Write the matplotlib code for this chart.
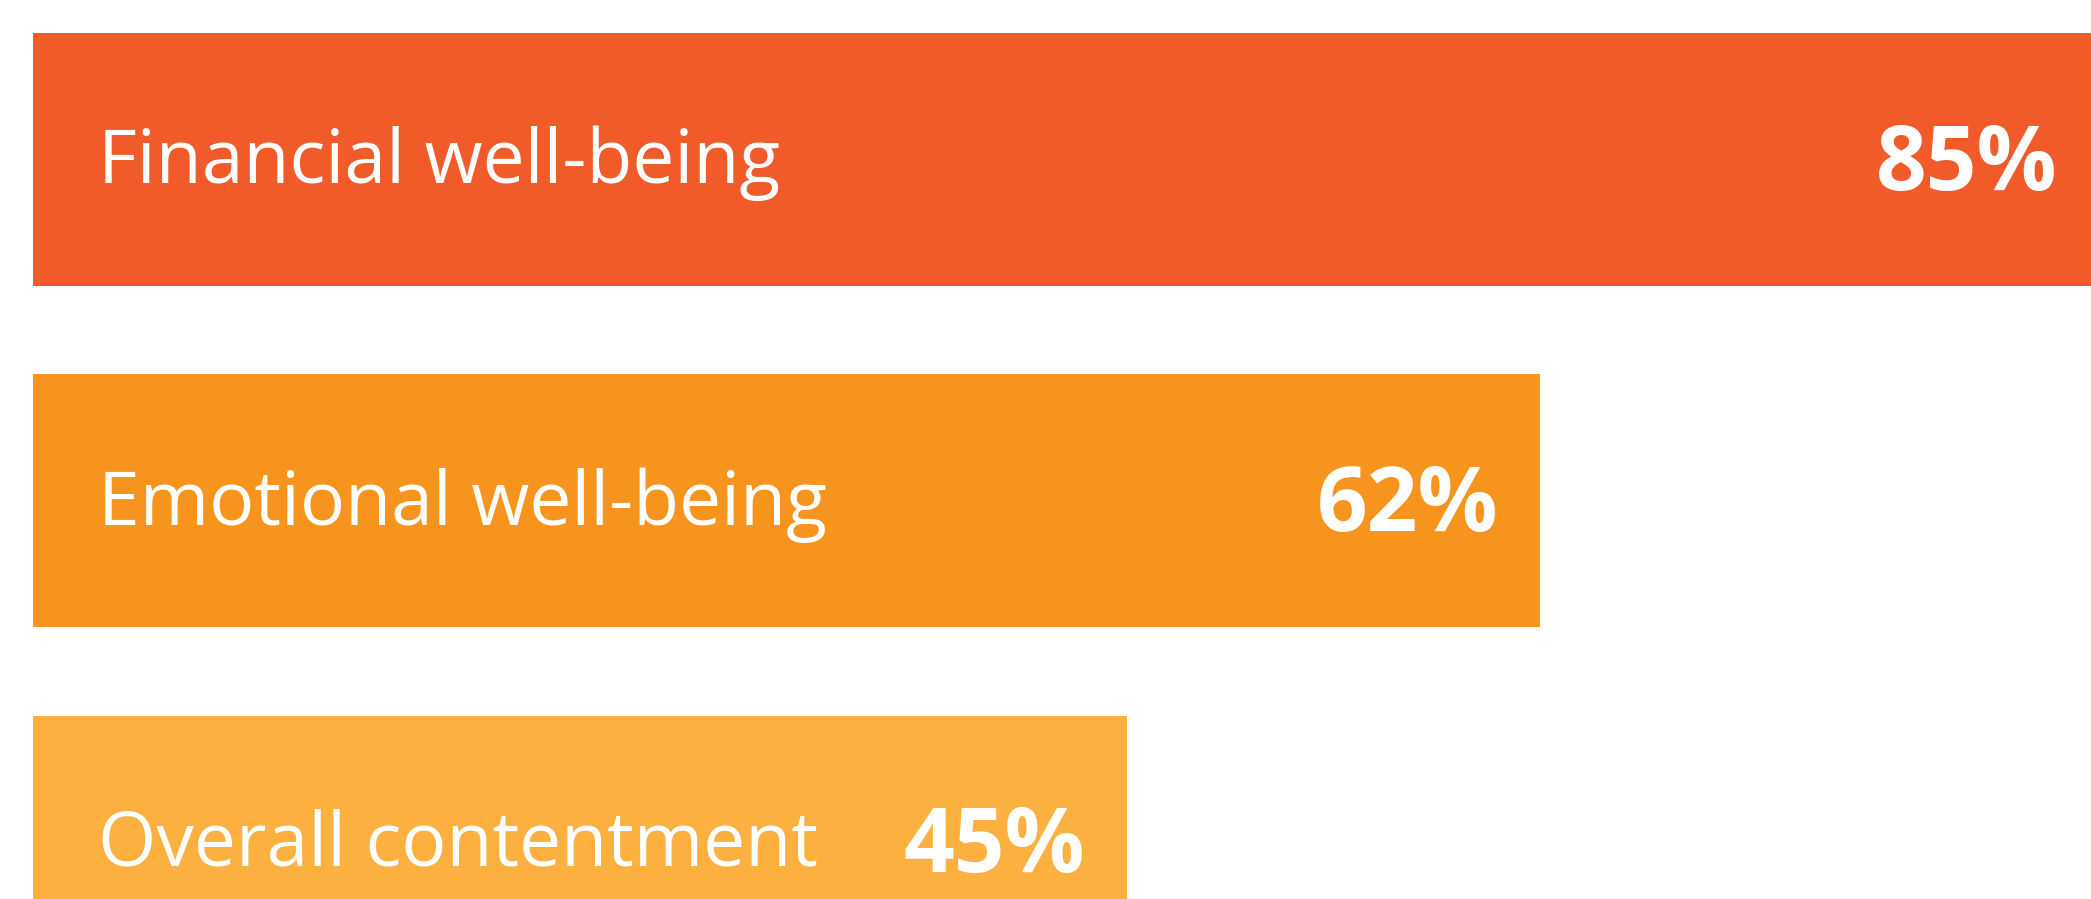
import matplotlib.pyplot as plt

# Data
categories = ['Financial well-being', 'Emotional well-being', 'Overall contentment']
values = [85, 62, 45]
colors = ['#F15A29', '#F7941D', '#FBB040']

plt.rcParams['font.family'] = ['Open Sans', 'DejaVu Sans']

fig = plt.figure(figsize=(20.91, 8.99), dpi=100)
ax = fig.add_axes([0, 0, 1, 1])

y = list(range(len(categories)))
ax.barh(y, values, height=0.74, color=colors, left=0)

for i, (name, v) in enumerate(zip(categories, values)):
    ax.text(2.67, i + 0.07, name, color='white', fontsize=54,
            ha='left', va='baseline')
    ax.text(v - 1.73, i + 0.088, f'{v}%', color='white', fontsize=64,
            fontweight='bold', ha='right', va='baseline')

ax.set_xlim(-1.36, 84.66)
ax.set_ylim(2.168, -0.468)
ax.axis('off')

fig.savefig('out.png', dpi=100)
